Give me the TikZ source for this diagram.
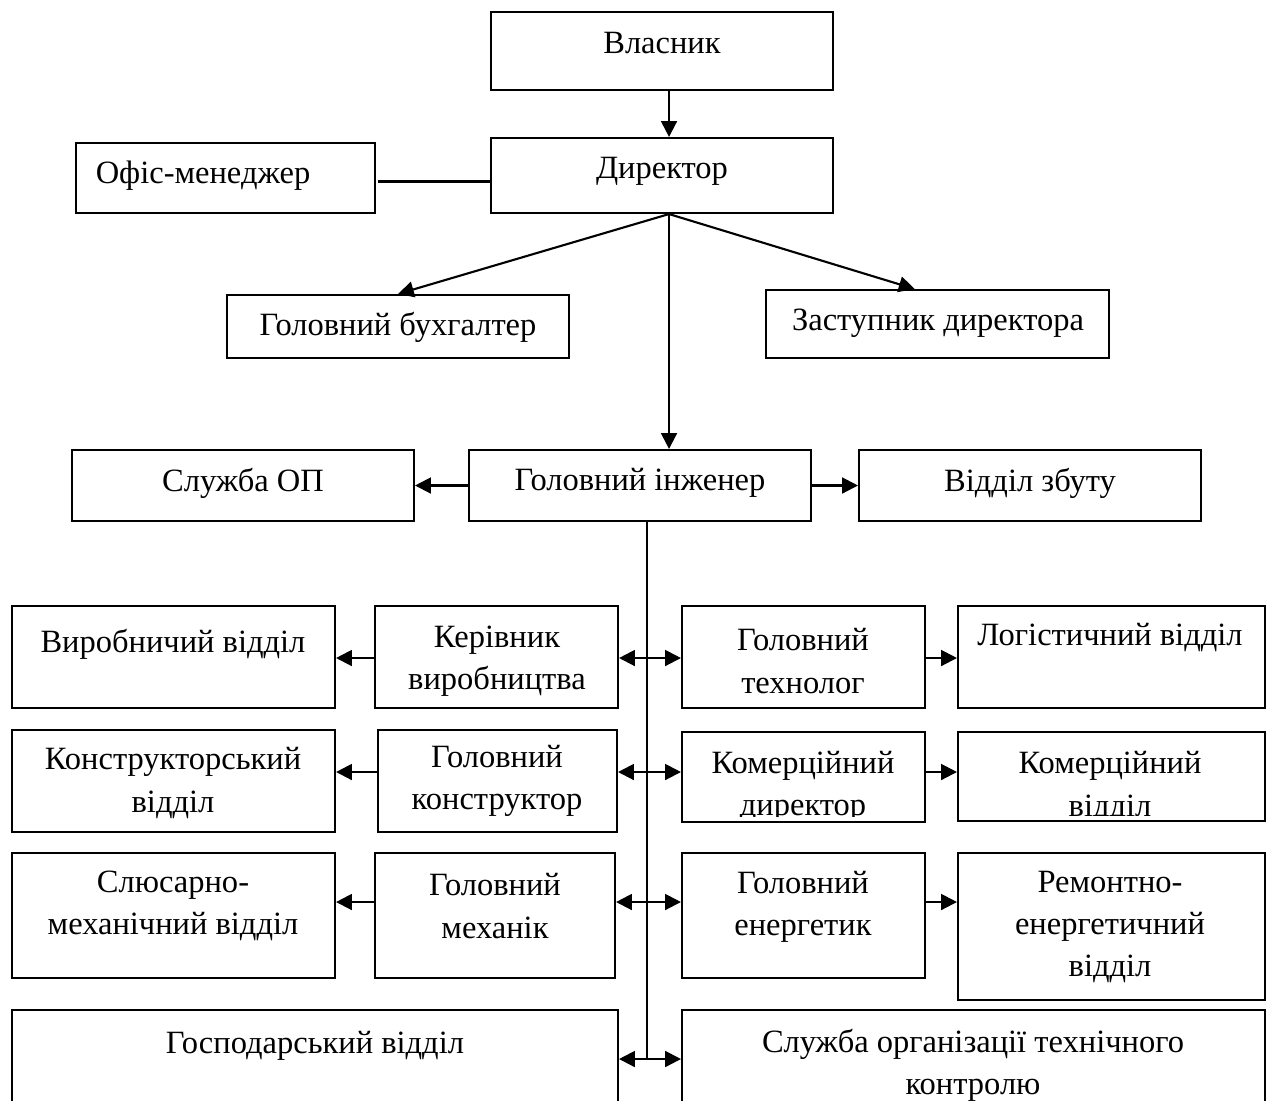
\documentclass[tikz,border=0pt]{standalone}
\usepackage{fontspec}
\setmainfont{Liberation Serif}
\usetikzlibrary{positioning, arrows.meta, calc}

\begin{document}
\begin{tikzpicture}[x=0.02cm, y=-0.02cm]
	\tikzset{
		box/.style={draw, line width=1.2pt, rectangle, inner sep=0pt},
		txt/.style={inner sep=0pt, align=center, font=\fontsize{18.5}{24}\selectfont},
		arr/.style={line width=1.2pt, -{Triangle[length=9pt, width=9pt]}},
		link/.style={line width=1.2pt}
	}
	\useasboundingbox (0,0) rectangle (1270,1100);
	\clip (0,0) rectangle (1270,1100);
	
	% верхній рівень
	\node[box, minimum width=6.84cm, minimum height=1.56cm] (vlasnyk) at (662,51) {};
	\node[box, minimum width=6.84cm, minimum height=1.50cm] (dyrektor) at (662,175.5) {};
	\node[box, minimum width=5.98cm, minimum height=1.40cm] (ofis) at (225.5,178) {};
	\node[box, minimum width=6.84cm, minimum height=1.26cm] (buh) at (398,326.5) {};
	\node[box, minimum width=6.86cm, minimum height=1.36cm] (zast) at (937.5,324) {};
	\node[txt] (vlasnykT) at (662,43) {Власник};
	\node[txt] (dyrektorT) at (662,171) {Директор};
	\node[txt] (ofisT) at (203,176) {Офіс-менеджер};
	\node[txt] (buhT) at (398,327) {Головний бухгалтер};
	\node[txt] (zastT) at (938,323) {Заступник директора};
	
	% головний інженер
	\node[box, minimum width=6.84cm, minimum height=1.42cm] (sluzhOP) at (243,485.5) {};
	\node[box, minimum width=6.84cm, minimum height=1.42cm] (golIng) at (640,485.5) {};
	\node[box, minimum width=6.84cm, minimum height=1.42cm] (zbut) at (1030,485.5) {};
	\node[txt] (sluzhOPT) at (243,483) {Служба ОП};
	\node[txt] (golIngT) at (640,483) {Головний інженер};
	\node[txt] (zbutT) at (1030,483) {Відділ збуту};
	
	% ряд 1
	\node[box, minimum width=6.46cm, minimum height=2.04cm] (virVid) at (173.5,657) {};
	\node[box, minimum width=4.86cm, minimum height=2.04cm] (kerVir) at (496.5,657) {};
	\node[box, minimum width=4.86cm, minimum height=2.04cm] (golTeh) at (803.5,657) {};
	\node[box, minimum width=6.14cm, minimum height=2.04cm] (logVid) at (1111.5,657) {};
	\node[txt] (virVidT) at (173,644) {Виробничий відділ};
	\node[txt] (kerVirT) at (497,661) {Керівник\\виробництва};
	\node[txt] (golTehT) at (803,661) {Головний\\технолог};
	\node[txt] (logVidT) at (1110,637) {Логістичний відділ};
	
	% ряд 2
	\node[box, minimum width=6.46cm, minimum height=2.04cm] (konVid) at (173.5,781) {};
	\node[box, minimum width=4.78cm, minimum height=2.04cm] (golKon) at (497.5,781) {};
	\node[box, minimum width=4.86cm, minimum height=1.80cm] (komDyr) at (803.5,777) {};
	\node[box, minimum width=6.14cm, minimum height=1.78cm] (komVid) at (1111.5,776.5) {};
	\node[txt] (konVidT) at (173,783) {Конструкторський\\відділ};
	\node[txt] (golKonT) at (497,781) {Головний\\конструктор};
	\begin{scope}
		\clip ([yshift=4pt]komDyr.south west) rectangle (komDyr.north east);
		\node[txt] (komDyrT) at (803,787) {Комерційний\\директор};
	\end{scope}
	\begin{scope}
		\clip ([yshift=4pt]komVid.south west) rectangle (komVid.north east);
		\node[txt] (komVidT) at (1110,787) {Комерційний\\відділ};
	\end{scope}
	
	% ряд 3
	\node[box, minimum width=6.46cm, minimum height=2.50cm] (slusVid) at (173.5,915.5) {};
	\node[box, minimum width=4.80cm, minimum height=2.50cm] (golMeh) at (495,915.5) {};
	\node[box, minimum width=4.86cm, minimum height=2.50cm] (golEn) at (803.5,915.5) {};
	\node[box, minimum width=6.14cm, minimum height=2.94cm] (remVid) at (1111.5,926.5) {};
	\node[txt] (slusVidT) at (173,906) {Слюсарно-\\механічний відділ};
	\node[txt] (golMehT) at (495,906) {Головний\\механік};
	\node[txt] (golEnT) at (803,907) {Головний\\енергетик};
	\node[txt] (remVidT) at (1110,927) {Ремонтно-\\енергетичний\\відділ};
	
	% ряд 4
	\node[box, minimum width=12.12cm, minimum height=1.96cm] (gospVid) at (315,1059) {};
	\node[box, minimum width=11.66cm, minimum height=1.96cm] (sotk) at (973.5,1059) {};
	\node[txt] (gospVidT) at (315,1046) {Господарський відділ};
	\node[txt] (sotkT) at (973,1065) {Служба організації технічного\\контролю};
	
	% зв'язки
	\coordinate (hub) at ([xshift=4pt]dyrektor.south);
	\coordinate (trunk) at ([xshift=4pt]golIng.south);
	\draw[arr] (vlasnyk.south -| hub) -- (dyrektor.north -| hub);
	\draw[link] ([xshift=1pt, yshift=-2pt]ofis.east) -- ([yshift=-2pt]ofis.east -| dyrektor.west);
	\draw[arr] (hub) -- (buh.north);
	\draw[arr] (hub) -- ([xshift=-13pt]zast.north);
	\draw[arr] (hub) -- (hub |- golIng.north);
	\draw[arr] (golIng.west) -- (sluzhOP.east);
	\draw[arr] (golIng.east) -- (zbut.west);
	\draw[link] (trunk) -- (trunk |- gospVid.east);
	
	\foreach \l/\r/\y in {kerVir/golTeh/658, golKon/komDyr/772, golMeh/golEn/902, gospVid/sotk/1059} {
		\draw[arr] (trunk |- 0,\y) -- (\l.east |- 0,\y);
		\draw[arr] (trunk |- 0,\y) -- (\r.west |- 0,\y);
	}
	\foreach \a/\b/\y in {kerVir/virVid/658, golKon/konVid/772, golMeh/slusVid/902} {
		\draw[arr] (\a.west |- 0,\y) -- (\b.east |- 0,\y);
	}
	\foreach \a/\b/\y in {golTeh/logVid/658, komDyr/komVid/772, golEn/remVid/902} {
		\draw[arr] (\a.east |- 0,\y) -- (\b.west |- 0,\y);
	}
\end{tikzpicture}
\end{document}
